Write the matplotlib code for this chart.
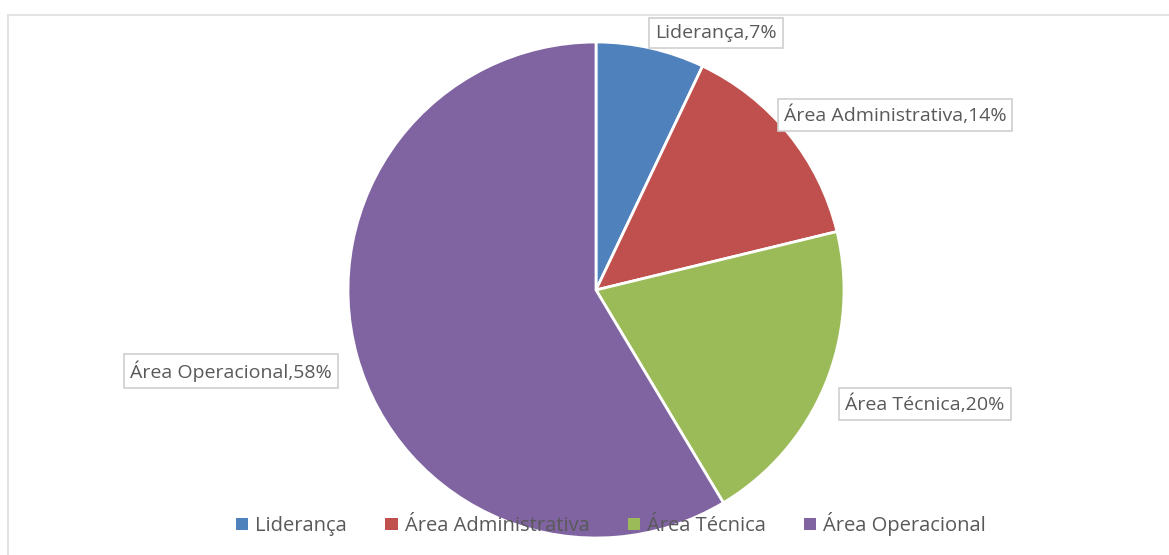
import matplotlib
matplotlib.use("Agg")
from matplotlib import pyplot as plt
from matplotlib.patches import Rectangle

# data
categories = ["Liderança", "Área Administrativa", "Área Técnica", "Área Operacional"]
values = [7, 14, 20, 58]
colors = ["#4f81bd", "#c0504d", "#9bbb59", "#8064a2"]
label_pos = [(716, 33), (895, 115), (925, 404), (231, 371)]

plt.rcParams['font.family'] = ['Open Sans', 'DejaVu Sans']

W, H = 1169, 555
fig = plt.figure(figsize=(W / 100, H / 100), dpi=100)
ax = fig.add_axes([0, 0, 1, 1])

# chart area border (top / left)
ax.add_patch(Rectangle((7.5, -10), W + 20, H - 14.5 + 10, fill=False,
                       edgecolor="#e3e3e3", linewidth=1.5, zorder=0))

wedges, _ = ax.pie(values, colors=colors, startangle=90, counterclock=False,
                   center=(596, H - 290), radius=248, frame=True,
                   wedgeprops=dict(edgecolor="white", linewidth=2))
ax.set_xlim(0, W)
ax.set_ylim(0, H)
ax.set_aspect('equal')
ax.axis('off')

for cat, v, (x, y) in zip(categories, values, label_pos):
    ax.text(x, H - y, "{},{}%".format(cat, v), ha='center', va='center',
            fontsize=14, color="#595959", zorder=5,
            bbox=dict(boxstyle='square,pad=0.3', facecolor='white',
                      edgecolor='#cfcfcf', linewidth=1.2))

leg = fig.legend(wedges, categories, loc='center', bbox_to_anchor=(611 / W, 1 - 524 / H),
                 ncol=4, frameon=False, fontsize=14.5, handlelength=0.6, handleheight=0.6,
                 handletextpad=0.35, columnspacing=1.9, labelcolor="#595959")
for h in leg.legend_handles:
    h.set_edgecolor('none')

fig.savefig("out.png", dpi=100)
